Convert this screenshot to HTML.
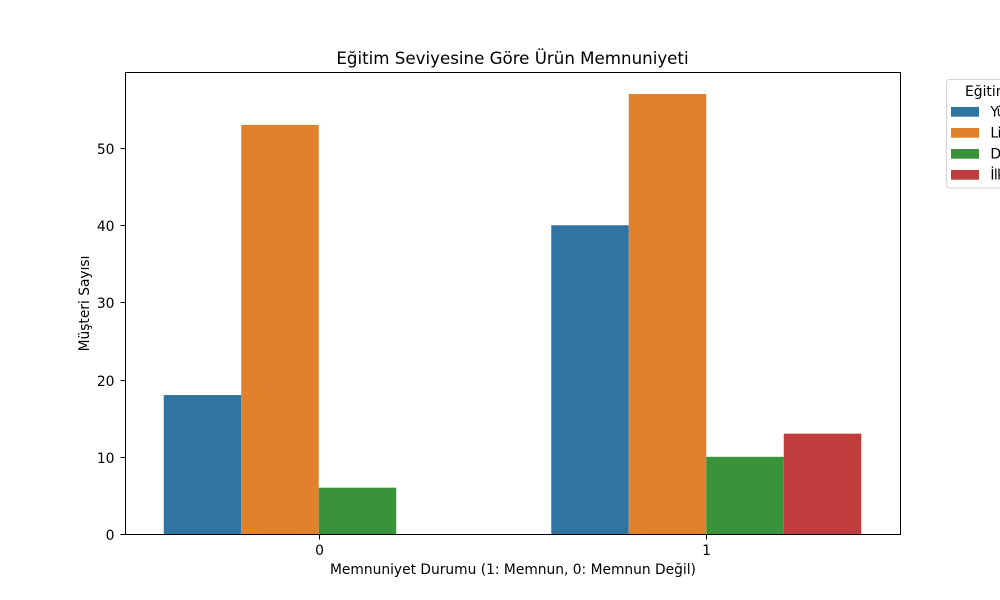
<!DOCTYPE html>
<html lang="tr">
<head>
<meta charset="utf-8">
<title>Eğitim Seviyesine Göre Ürün Memnuniyeti</title>
<style>
html,body{margin:0;padding:0;background:#fff;width:1000px;height:600px;overflow:hidden}
svg{display:block}
text{font-family:"DejaVu Sans",sans-serif;fill:#000}
</style>
</head>
<body>
<svg id="chart" width="1000" height="600" viewBox="0 0 1000 600" xmlns="http://www.w3.org/2000/svg">
<text x="512.5" y="64" font-size="16.67" text-anchor="middle">Eğitim Seviyesine Göre Ürün Memnuniyeti</text>
<g id="bars"></g>
<g id="ticks"></g>
<rect x="125.5" y="72.5" width="775" height="462" fill="none" stroke="#000" stroke-width="1"/>
<text x="513" y="574" font-size="13.8" text-anchor="middle">Memnuniyet Durumu (1: Memnun, 0: Memnun Değil)</text>
<text transform="translate(89 303.5) rotate(-90)" font-size="13.8" text-anchor="middle">Müşteri Sayısı</text>
<g id="legend">
<rect x="946.5" y="79.5" width="70" height="108.5" rx="3" fill="#fff" stroke="#d5d5d5" stroke-width="1.1"/>
<text x="965" y="96" font-size="13.89">Eğitim Seviyesi</text>
</g>
</svg>
<script>
var categories = ['0', '1'];
var seriesNames = ['Yüksek Lisans', 'Lise', 'Doktora', 'İlkokul'];
var seriesColors = ['#3274a1', '#e1812c', '#3a923a', '#c03d3e'];
var yuksekLisansValues = [18, 40];
var liseValues = [53, 57];
var doktoraValues = [6, 10];
var ilkokulValues = [0, 13];
var yTickLabels = [0, 10, 20, 30, 40, 50];

var seriesValues = [yuksekLisansValues, liseValues, doktoraValues, ilkokulValues];
var NS = 'http://www.w3.org/2000/svg';
var plot = {left: 125, right: 900, top: 72, bottom: 534};
var yMax = 59.85;

function xScale(v) {
  return plot.left + (v + 0.5) / categories.length * (plot.right - plot.left);
}
function yScale(v) {
  return plot.bottom - v / yMax * (plot.bottom - plot.top);
}
function crisp(v) {
  return Math.round(v) + 0.5;
}
function make(tag, attrs, parent) {
  var el = document.createElementNS(NS, tag);
  for (var k in attrs) el.setAttribute(k, attrs[k]);
  parent.appendChild(el);
  return el;
}

var barsGroup = document.getElementById('bars');
var ticksGroup = document.getElementById('ticks');
var legendGroup = document.getElementById('legend');
var barWidth = 0.2;

seriesValues.forEach(function (values, s) {
  values.forEach(function (value, c) {
    if (!value) return;
    var x0 = xScale(c + (s - 2) * barWidth);
    var x1 = xScale(c + (s - 1) * barWidth);
    var bar = make('rect', {x: x0, y: yScale(value), width: x1 - x0, height: plot.bottom - yScale(value), fill: seriesColors[s]}, barsGroup);
    
    
  });
});

categories.forEach(function (label, c) {
  var x = crisp(xScale(c));
  var tick = make('line', {x1: x, x2: x, y1: plot.bottom + 0.5, y2: plot.bottom + 5.5, stroke: '#000', 'stroke-width': 1}, ticksGroup);
  
  
  var text = make('text', {x: x, y: 555, 'font-size': 13.89, 'text-anchor': 'middle'}, ticksGroup);
  text.textContent = label;
  
  
});

yTickLabels.forEach(function (value) {
  var y = crisp(yScale(value));
  var tick = make('line', {x1: plot.left - 4.5, x2: plot.left + 0.5, y1: y, y2: y, stroke: '#000', 'stroke-width': 1}, ticksGroup);
  
  
  var text = make('text', {x: 114.5, y: y + 5.5, 'font-size': 13.89, 'text-anchor': 'end'}, ticksGroup);
  text.textContent = value;
  
  
});

seriesNames.forEach(function (name, s) {
  var swatch = make('rect', {x: 951, y: 107 + s * 21, width: 28, height: 9.7, fill: seriesColors[s]}, legendGroup);
  
  
  var text = make('text', {x: 990.4, y: 116.5 + s * 21, 'font-size': 13.89, 'letter-spacing': '-0.6'}, legendGroup);
  text.textContent = name;
  
  
});
</script>
</body>
</html>
